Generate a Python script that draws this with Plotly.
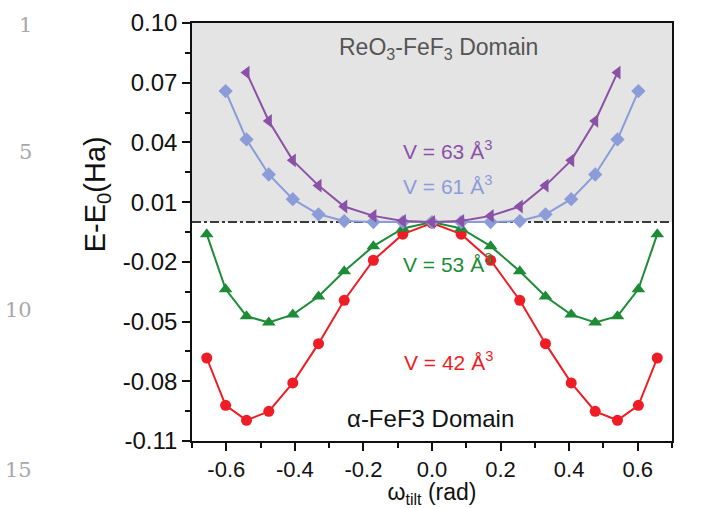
import plotly.graph_objects as go

# ---- data ----
x_v42 = [-0.657, -0.602, -0.541, -0.476, -0.406, -0.331, -0.256, -0.171, -0.085, 0.0,
         0.085, 0.171, 0.256, 0.331, 0.406, 0.476, 0.541, 0.602, 0.657]
y_v42 = [-0.0683, -0.0921, -0.0996, -0.0951, -0.0808, -0.0611, -0.0393, -0.0192, -0.0061, -0.0005,
         -0.0061, -0.0192, -0.0393, -0.0611, -0.0808, -0.0951, -0.0996, -0.0921, -0.0683]

x_v53 = [-0.657, -0.602, -0.541, -0.476, -0.406, -0.331, -0.256, -0.171, -0.085, 0.0,
         0.085, 0.171, 0.256, 0.331, 0.406, 0.476, 0.541, 0.602, 0.657]
y_v53 = [-0.0061, -0.0337, -0.0473, -0.0505, -0.0465, -0.0374, -0.0247, -0.0121, -0.0032, 0.0,
         -0.0032, -0.0121, -0.0247, -0.0374, -0.0465, -0.0505, -0.0473, -0.0337, -0.0061]

x_v61 = [-0.602, -0.541, -0.476, -0.406, -0.331, -0.256, -0.171, -0.085, 0.0,
         0.085, 0.171, 0.256, 0.331, 0.406, 0.476, 0.541, 0.602]
y_v61 = [0.0658, 0.0415, 0.0239, 0.0115, 0.0039, 0.0005, 0.0, 0.0, 0.0,
         0.0, 0.0, 0.0005, 0.0039, 0.0115, 0.0239, 0.0415, 0.0658]

x_v63 = [-0.541, -0.476, -0.406, -0.331, -0.256, -0.171, -0.085, 0.0,
         0.085, 0.171, 0.256, 0.331, 0.406, 0.476, 0.541]
y_v63 = [0.0751, 0.0508, 0.0310, 0.0183, 0.0078, 0.0031, 0.0005, 0.0,
         0.0005, 0.0031, 0.0078, 0.0183, 0.0310, 0.0508, 0.0751]

y_tickvals = [0.10, 0.07, 0.04, 0.01, -0.02, -0.05, -0.08, -0.11]
y_ticktext = ["0.10", "0.07", "0.04", "0.01", "-0.02", "-0.05", "-0.08", "-0.11"]
x_tickvals = [-0.6, -0.4, -0.2, 0.0, 0.2, 0.4, 0.6]
x_ticktext = ["-0.6", "-0.4", "-0.2", "0.0", "0.2", "0.4", "0.6"]

line_numbers = ["1", "5", "10", "15"]
line_number_y = [0.9945, 0.6907, 0.3127, -0.0700]

RED = "#EE1D25"
GREEN = "#1E8C37"
BLUE = "#8C9CD8"
PURPLE = "#8A52A6"
FONT = "Liberation Sans, Arial, sans-serif"

fig = go.Figure()

fig.add_trace(go.Scatter(x=x_v42, y=y_v42, mode="lines+markers",
                         line=dict(color=RED, width=2),
                         marker=dict(symbol="circle", size=11, color=RED)))
fig.add_trace(go.Scatter(x=x_v53, y=y_v53, mode="lines+markers",
                         line=dict(color=GREEN, width=2),
                         marker=dict(symbol="triangle-up", size=12, color=GREEN)))
fig.add_trace(go.Scatter(x=x_v61, y=y_v61, mode="lines+markers",
                         line=dict(color=BLUE, width=2),
                         marker=dict(symbol="diamond", size=11, color=BLUE)))
fig.add_trace(go.Scatter(x=x_v63, y=y_v63, mode="lines+markers",
                         line=dict(color=PURPLE, width=2),
                         marker=dict(symbol="triangle-left", size=12, color=PURPLE)))

# shaded ReO3 domain and dash-dot boundary
fig.add_shape(type="rect", xref="paper", yref="y", x0=0, x1=1, y0=0, y1=0.10,
              fillcolor="#E4E4E4", line=dict(width=0), layer="below")
fig.add_shape(type="line", xref="paper", yref="y", x0=0, x1=1, y0=0, y1=0,
              line=dict(color="#3A3A3A", width=2, dash="dashdot"), layer="below")

ann = []
ann.append(dict(text="ReO<sub>3</sub>-FeF<sub>3</sub> Domain", x=0.5125, y=0.9395,
                font=dict(size=23, color="#555555", family=FONT)))
ann.append(dict(text="V = 63 Å<sup>3</sup>", x=0.533, y=0.6955,
                font=dict(size=21, color=PURPLE, family=FONT)))
ann.append(dict(text="V = 61 Å<sup>3</sup>", x=0.533, y=0.612,
                font=dict(size=21, color=BLUE, family=FONT)))
ann.append(dict(text="V = 53 Å<sup>3</sup>", x=0.533, y=0.425,
                font=dict(size=21, color=GREEN, family=FONT)))
ann.append(dict(text="V = 42 Å<sup>3</sup>", x=0.535, y=0.191,
                font=dict(size=21, color=RED, family=FONT)))
ann.append(dict(text="α-FeF3 Domain", x=0.496, y=0.054,
                font=dict(size=24, color="#111111", family=FONT)))
ann.append(dict(text="E-E<sub>0</sub>(Ha)", x=-0.198, y=0.59, textangle=-90,
                font=dict(size=29, color="#111111", family=FONT)))
for t, yy in zip(line_numbers, line_number_y):
    ann.append(dict(text=t, x=-0.329, y=yy, xanchor="right",
                    font=dict(size=21, color="#A8A8A8", family="DejaVu Serif, serif")))
for a in ann:
    a.setdefault("xanchor", "center")
    a.setdefault("yanchor", "middle")
    a.update(xref="paper", yref="paper", showarrow=False)
fig.update_layout(annotations=ann)

fig.update_layout(
    width=709, height=508,
    margin=dict(l=192, r=37, t=23, b=67),
    paper_bgcolor="white", plot_bgcolor="white",
    showlegend=False,
    font=dict(family=FONT, color="#111111"),
)
fig.update_xaxes(range=[-0.7, 0.7], showgrid=False, zeroline=False, automargin=False,
                 showline=True, linecolor="#111111", linewidth=1.5, mirror=True,
                 ticks="outside", ticklen=8, tickwidth=1.5, tickcolor="#111111",
                 tickvals=x_tickvals, ticktext=x_ticktext,
                 tickfont=dict(size=22, family=FONT, color="#111111"),
                 title=dict(text="ω<sub>tilt</sub> (rad)", standoff=1,
                            font=dict(size=23, family=FONT, color="#111111")),
                 minor=dict(ticks="outside", ticklen=5, tickwidth=1.5, dtick=0.1,
                            tick0=0, tickcolor="#111111", showgrid=False))
fig.update_yaxes(range=[-0.11, 0.10], showgrid=False, zeroline=False, automargin=False,
                 showline=True, linecolor="#111111", linewidth=1.5, mirror=True,
                 ticks="outside", ticklen=8, tickwidth=1.5, tickcolor="#111111",
                 tickvals=y_tickvals, ticktext=y_ticktext,
                 tickfont=dict(size=24, family=FONT, color="#111111"),
                 minor=dict(ticks="outside", ticklen=5, tickwidth=1.5, dtick=0.015,
                            tick0=-0.11, tickcolor="#111111", showgrid=False))

fig.write_html("out.html")
